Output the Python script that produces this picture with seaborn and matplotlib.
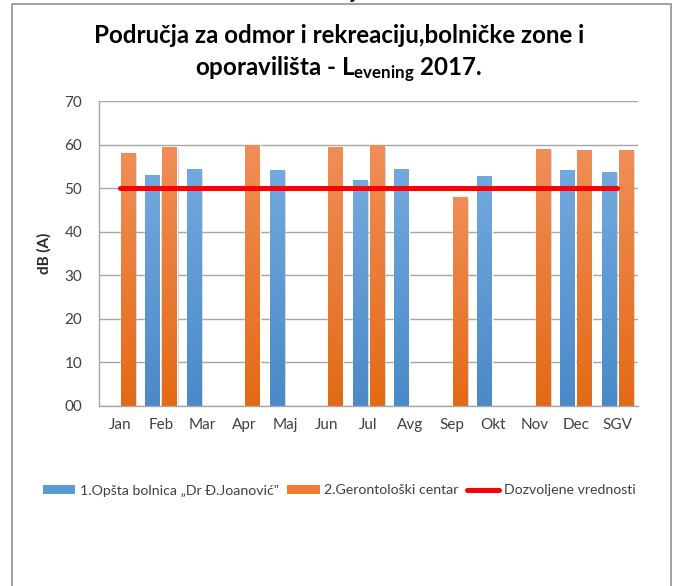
import numpy as np
import pandas as pd
import matplotlib
matplotlib.use('Agg')
import matplotlib.pyplot as plt
import matplotlib.patheffects as pe
from matplotlib.patches import Patch, Rectangle
from matplotlib.lines import Line2D
from matplotlib.colors import LinearSegmentedColormap
import seaborn as sns

# Data
months = ['Jan', 'Feb', 'Mar', 'Apr', 'Maj', 'Jun', 'Jul', 'Avg', 'Sep', 'Okt', 'Nov', 'Dec', 'SGV']
bolnica = [np.nan, 53.1, 54.4, np.nan, 54.2, np.nan, 51.8, 54.4, np.nan, 52.7, np.nan, 54.2, 53.7]
gerontoloski = [58.1, 59.5, np.nan, 59.9, np.nan, 59.5, 59.8, np.nan, 48.0, np.nan, 59.1, 58.8, 58.8]
limit = [50] * len(months)

s1 = '1.Opšta bolnica „Dr Đ.Joanović"'
s2 = '2.Gerontološki centar'
s3 = 'Dozvoljene vrednosti'

sns.set_theme(style='white')
plt.rcParams['font.family'] = ['Lato', 'DejaVu Sans']
plt.rcParams['mathtext.fontset'] = 'custom'
plt.rcParams['mathtext.rm'] = 'Lato:bold'
plt.rcParams['mathtext.default'] = 'rm'

df = pd.DataFrame({
    'Mesec': months * 2,
    'dB': bolnica + gerontoloski,
    'Serija': [s1] * len(months) + [s2] * len(months),
})

blue = '#5B9BD5'
orange = '#ED7D31'

fig = plt.figure(figsize=(6.78, 5.86), dpi=100)
ax = fig.add_axes([0.146, 0.3072, 0.795, 0.5204])

sns.barplot(ax=ax, data=df, x='Mesec', y='dB', hue='Serija', order=months,
            hue_order=[s1, s2], palette=[blue, orange], width=0.82, gap=0.15,
            legend=False, saturation=1)

# gradient fill + soft shadow like the Excel bars
grads = {
    blue: LinearSegmentedColormap.from_list('b', ['#4A89C8', '#72A9DE']),
    orange: LinearSegmentedColormap.from_list('o', ['#E36A15', '#F08E58']),
}
for p in list(ax.patches):
    h = p.get_height()
    if not np.isfinite(h) or h == 0:
        continue
    fc = matplotlib.colors.to_hex(p.get_facecolor())
    cmap = grads[blue] if fc.lower() == blue.lower() else grads[orange]
    p.set_path_effects([pe.SimplePatchShadow(offset=(1.2, -1.2), shadow_rgbFace='#999999', alpha=0.45), pe.Normal()])
    x0 = p.get_x()
    w = p.get_width()
    grad = np.linspace(0, 1, 256).reshape(-1, 1)
    im = ax.imshow(grad, extent=[x0, x0 + w, 0, h], origin='lower', cmap=cmap,
                   aspect='auto', zorder=p.get_zorder() + 0.1)
    im.set_clip_path(p)

sns.lineplot(ax=ax, x=np.arange(len(months)), y=limit, color='#FF0000', linewidth=3.6,
             legend=False, zorder=5)

ax.set_xlim(-0.5, len(months) - 0.5)
ax.set_ylim(0, 70)
ax.set_yticks(range(0, 71, 10))
ax.set_yticklabels([f'{v:02d}' for v in range(0, 71, 10)])
ax.set_xticks(range(len(months)))
ax.set_xticklabels(months)
ax.tick_params(axis='both', length=0, labelsize=11, labelcolor='#404040', pad=9)
ax.tick_params(axis='y', pad=12)
ax.grid(axis='y', color='#A6A6A6', linewidth=1)
ax.set_axisbelow(True)
for side in ['top', 'right']:
    ax.spines[side].set_visible(False)
for side in ['left', 'bottom']:
    ax.spines[side].set_color('#A6A6A6')
    ax.spines[side].set_linewidth(1)
ax.set_xlabel('')
ax.set_ylabel('dB (A)', fontsize=11, fontweight='bold', color='#262626', labelpad=9)

fig.text(0.5, 0.94, 'Područja za odmor i rekreaciju,bolničke zone i',
         ha='center', va='center', fontsize=17.4, fontweight='bold', color='black')
fig.text(0.5, 0.88, 'oporavilišta - L$_{evening}$ 2017.',
         ha='center', va='center', fontsize=17.4, fontweight='bold', color='black')

handles = [
    Patch(facecolor=blue, edgecolor='none'),
    Patch(facecolor=orange, edgecolor='none'),
    Line2D([0], [0], color='#FF0000', linewidth=3.6),
]
fig.legend(handles, [s1, s2, s3], loc='center', bbox_to_anchor=(0.5, 0.163), ncol=3,
           frameon=False, fontsize=10.2, handlelength=2.3, handleheight=0.55,
           handletextpad=0.3, columnspacing=0.6, labelcolor='#404040')

# chart outer frame (bottom edge runs off the picture)
fig.patches.append(Rectangle((12 / 678, -0.05), (671 - 12) / 678, 1.05 - 4 / 586,
                             transform=fig.transFigure, fill=False, edgecolor='#9A9A9A',
                             linewidth=1.3))
# descender of the letter cut off above the frame, as in the reference
fig.text(353 / 678, 1 + 1 / 586, 'j', ha='center', va='baseline', fontsize=14,
         fontweight='bold', color='black')

fig.savefig('out.png', dpi=100, facecolor='white')
